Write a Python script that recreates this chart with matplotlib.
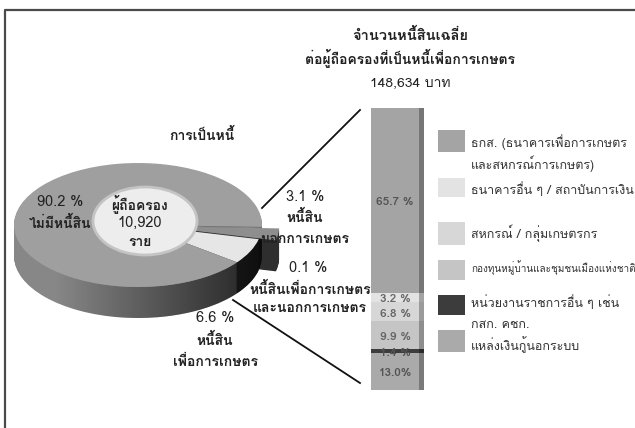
import numpy as np
import matplotlib
matplotlib.use("Agg")
import matplotlib.pyplot as plt
from matplotlib.patches import Ellipse, Rectangle, PathPatch
from matplotlib.path import Path

W, H = 635, 428
TH = ["Loma", "DejaVu Sans"]

# ── data ──
# ownership of debt among holders (pie)
pie_labels = ["หนี้สินเพื่อการเกษตร", "หนี้สินนอกการเกษตร",
              "หนี้สินเพื่อการเกษตรและนอกการเกษตร", "ไม่มีหนี้สิน"]
pie_share = [6.6, 3.1, 0.1, 90.2]
pie_top = ["#e6e6e6", "#8e8e8e", "#333333", "#9f9f9f"]
pie_side = ["#3c3c3c", "#2e2e2e", "#262626", "#878787"]
pie_explode = [0, 0.14, 0, 0]

# sources of agricultural debt (stacked bar)
src_labels = ["ธกส. (ธนาคารเพื่อการเกษตร\nและสหกรณ์การเกษตร)",
              "ธนาคารอื่น ๆ / สถาบันการเงิน",
              "สหกรณ์ / กลุ่มเกษตรกร",
              "กองทุนหมู่บ้านและชุมชนเมืองแห่งชาติ",
              "หน่วยงานราชการอื่น ๆ เช่น\nกสก. คชก.",
              "แหล่งเงินกู้นอกระบบ"]
src_share = [65.7, 3.2, 6.8, 9.9, 1.4, 13.0]
src_text = ["65.7 %", "3.2 %", "6.8 %", "9.9 %", "1.4 %", "13.0%"]
src_color = ["#a4a4a4", "#e3e3e3", "#d7d7d7", "#c5c5c5", "#3c3c3c", "#aaaaaa"]
src_text_color = ["#555555", "#666666", "#666666", "#666666", "#555555", "#555555"]

holders = "10,920"
avg_debt = "148,634"


def box(x0, y0, x1, y1):
    """pixel box (top-left origin) -> figure fraction rect"""
    return [x0 / W, 1 - y1 / H, (x1 - x0) / W, (y1 - y0) / H]


def darker(c, f=0.72):
    rgb = np.array(matplotlib.colors.to_rgb(c)) * f
    return tuple(rgb)


fig = plt.figure(figsize=(W / 100, H / 100), dpi=100)

# ── 3D-ish pie ──
cx, cy, rx, ry = 138, 225, 124, 62
px0, py0, px1, py1 = 0, 150, 300, 330
pax = fig.add_axes(box(px0, py0, px1, py1))
depth = 0.5
for d in np.linspace(depth, 0.02, 40):
    pax.pie(pie_share, colors=pie_side, explode=pie_explode, startangle=-37,
            counterclock=True, center=(0, -d), wedgeprops=dict(linewidth=0))

# darken the right part of the side wall
t = np.linspace(np.pi, 2 * np.pi, 100)
band = np.vstack([np.c_[np.cos(t), np.sin(t)],
                  np.c_[np.cos(t[::-1]), np.sin(t[::-1]) - depth]])
band_patch = PathPatch(Path(band), transform=pax.transData, fc="none", ec="none")
pax.add_patch(band_patch)
grad = np.zeros((2, 200, 4))
grad[..., 3] = np.linspace(-0.15, 0.75, 200).clip(0, 1)
im = pax.imshow(grad, extent=(-1, 1, -1.6, 0.2), aspect="auto", zorder=3)
im.set_clip_path(band_patch)

wedges, _ = pax.pie(pie_share, colors=pie_top, explode=pie_explode, startangle=-37,
                    counterclock=True, center=(0, 0), wedgeprops=dict(linewidth=0))
for w in wedges:
    w.set_zorder(4)
pax.add_patch(Ellipse((7 / rx, (cy - 221) / ry), 104 / rx, 68 / ry,
                      fc="#ededed", ec="#c4c4c4", lw=2, zorder=5))
pax.set_xlim((px0 - cx) / rx, (px1 - cx) / rx)
pax.set_ylim(-(py1 - cy) / ry, (cy - py0) / ry)
pax.set_aspect("auto")
pax.axis("off")

# ── stacked bar ──
bx0, by0, bx1, by1 = 360, 108, 430, 390
bax = fig.add_axes(box(bx0, by0, bx1, by1))
bottoms = np.concatenate([[0], np.cumsum(src_share)[:-1]])
bax.bar(0.5, src_share, width=0.686, bottom=bottoms, color=src_color, linewidth=0)
bax.bar(0.879, src_share, width=0.071, bottom=bottoms,
        color=[darker(c) for c in src_color], linewidth=0)
for b, s, txt, tc in zip(bottoms, src_share, src_text, src_text_color):
    bax.text(0.5, b + s / 2 + 0.6, txt, ha="center", va="center", fontsize=8.5,
             fontweight="bold", color=tc, family=TH)
bax.set_xlim(0, 1)
bax.set_ylim(100, 0)
bax.axis("off")

# ── overlay: frame, leader lines, texts, legend ──
ax = fig.add_axes([0, 0, 1, 1], zorder=5)
ax.set_xlim(0, W)
ax.set_ylim(H, 0)
ax.axis("off")

ax.plot([5, 5, W + 5], [H + 5, 10, 10], color="#4a4a4a", lw=1.6)
ax.plot([262, 360], [208, 110], color="#111111", lw=1.3)
ax.plot([233, 360], [300, 383], color="#111111", lw=1.3)

tk = dict(ha="center", va="center", family=TH, color="#222222")
ax.text(410, 35, "จำนวนหนี้สินเฉลี่ย", fontsize=10.5, fontweight="bold", **tk)
ax.text(410, 58, "ต่อผู้ถือครองที่เป็นหนี้เพื่อการเกษตร", fontsize=10, fontweight="bold", **tk)
ax.text(410, 83, f"{avg_debt} บาท", fontsize=10, **tk)

ax.text(202, 135, "การเป็นหนี้", fontsize=10, fontweight="bold", **tk)
ax.text(60, 202, f"{pie_share[3]} %", fontsize=10.5, **tk)
ax.text(60, 223, pie_labels[3], fontsize=10, fontweight="bold", **tk)
ax.text(140, 204, "ผู้ถือครอง", fontsize=10, fontweight="bold", **tk)
ax.text(140, 223, holders, fontsize=10.5, **tk)
ax.text(140, 243, "ราย", fontsize=10, fontweight="bold", **tk)

ax.text(305, 197, f"{pie_share[1]} %", fontsize=10.5, **tk)
ax.text(305, 217, "หนี้สิน", fontsize=10, fontweight="bold", **tk)
ax.text(305, 240, "นอกการเกษตร", fontsize=10, fontweight="bold", **tk)

ax.text(308, 268, f"{pie_share[2]} %", fontsize=10.5, **tk)
ax.text(310, 289, "หนี้สินเพื่อการเกษตร", fontsize=10, fontweight="bold", **tk)
ax.text(310, 309, "และนอกการเกษตร", fontsize=10, fontweight="bold", **tk)

ax.text(215, 318, f"{pie_share[0]} %", fontsize=10.5, **tk)
ax.text(215, 340, "หนี้สิน", fontsize=10, fontweight="bold", **tk)
ax.text(215, 362, "เพื่อการเกษตร", fontsize=10, fontweight="bold", **tk)

# legend
sw_top = [130, 178, 222, 260, 295, 330]
sw_h = [22, 19, 23, 20, 20, 22]
txt_y = [142, 190, 233, 268, 303, 345]
for lab, col, yt, hh, ty in zip(src_labels, src_color, sw_top, sw_h, txt_y):
    ax.add_patch(Rectangle((438, yt), 27, hh, fc=col, ec="none"))
    lines = lab.split("\n")
    fs = 7.2 if len(lines[0]) > 30 else 9
    for i, ln in enumerate(lines):
        ax.text(471, ty + i * 22, ln, ha="left", va="center", fontsize=fs,
                family=TH, color="#333333")

fig.savefig("out.png", dpi=100)
